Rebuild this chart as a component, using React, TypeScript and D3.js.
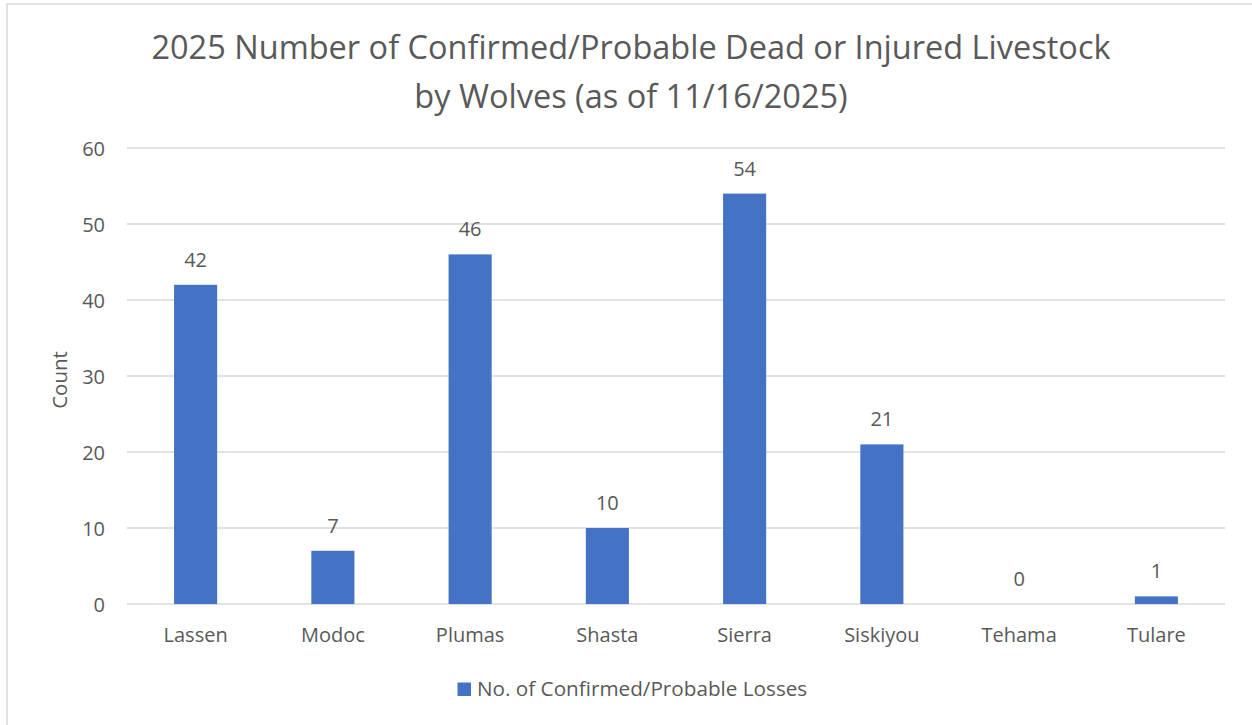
import React from "react";
import * as d3 from "d3";

const categories = ["Lassen", "Modoc", "Plumas", "Shasta", "Sierra", "Siskiyou", "Tehama", "Tulare"];
const losses = [42, 7, 46, 10, 54, 21, 0, 1];
const yTicks = [0, 10, 20, 30, 40, 50, 60];
const titleLines = ["2025 Number of Confirmed/Probable Dead or Injured Livestock", "by Wolves (as of 11/16/2025)"];
const seriesName = "No. of Confirmed/Probable Losses";
const yLabel = "Count";

const W = 1252;
const H = 725;
const FONT = "'Open Sans', sans-serif";
const TEXT = "#595959";

export default function App() {
  const x = d3.scaleBand<string>().domain(categories).range([127, 1225]).paddingInner(0.686).paddingOuter(0.343);
  const y = d3.scaleLinear().domain([0, 60]).range([604, 148]);

  return (
    <svg width={W} height={H} style={{ position: "absolute", left: 0, top: 0, background: "#fff" }}>
      <rect x={7} y={4} width={W + 10} height={H + 10} fill="#fff" stroke="#d9d9d9" strokeWidth={1.5} />
      {titleLines.map((t, i) => (
        <text key={i} x={631} y={59 + i * 49} textAnchor="middle" fontFamily={FONT} fontSize={32.5} fill={TEXT}>
          {t}
        </text>
      ))}
      {yTicks.map((t) => (
        <g key={t}>
          <line x1={127} x2={1225} y1={y(t)} y2={y(t)} stroke="#d9d9d9" strokeWidth={1.5} />
          <text x={105} y={y(t) + 7.5} textAnchor="end" fontFamily={FONT} fontSize={20} fill={TEXT}>
            {t}
          </text>
        </g>
      ))}
      <text
        transform={`translate(67,380) rotate(-90)`}
        textAnchor="middle"
        fontFamily={FONT}
        fontSize={20.5}
        fill={TEXT}
      >
        {yLabel}
      </text>
      {categories.map((c, i) => {
        const v = losses[i];
        const bx = x(c)!;
        const cx = bx + x.bandwidth() / 2;
        return (
          <g key={c}>
            <rect x={bx} y={y(v)} width={x.bandwidth()} height={y(0) - y(v)} fill="#4472c4" />
            <text x={cx} y={y(v) - 18} textAnchor="middle" fontFamily={FONT} fontSize={20} fill={TEXT}>
              {v}
            </text>
            <text x={cx} y={642} textAnchor="middle" fontFamily={FONT} fontSize={20} fill={TEXT}>
              {c}
            </text>
          </g>
        );
      })}
      <rect x={457.5} y={682.5} width={13.5} height={13.5} fill="#4472c4" />
      <text x={477} y={696} fontFamily={FONT} fontSize={20.7} fill={TEXT}>
        {seriesName}
      </text>
    </svg>
  );
}
